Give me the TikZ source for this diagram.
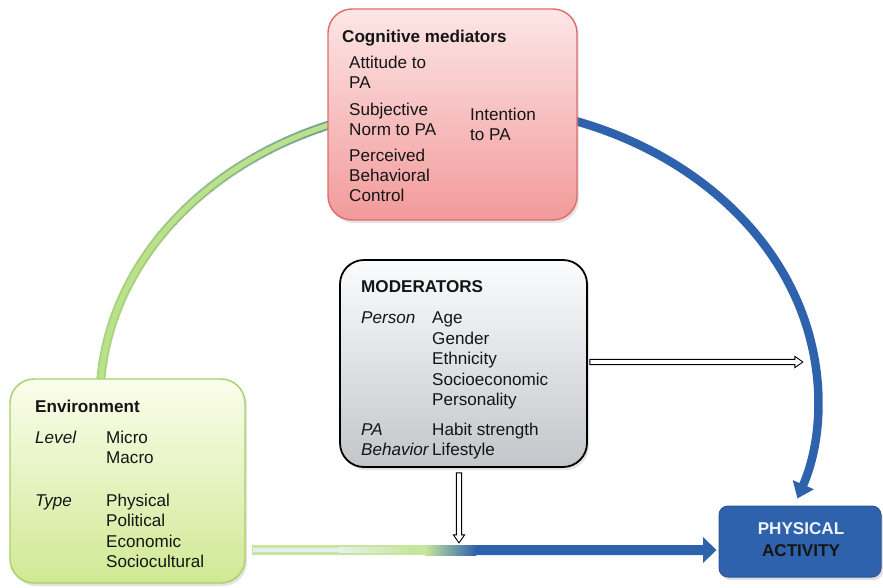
\documentclass[tikz,border=0pt]{standalone}
\usepackage{fontspec}
\setmainfont{Liberation Sans}
\usetikzlibrary{arrows.meta,shadows,calc}

\definecolor{ink}{HTML}{151515}
\definecolor{cogtop}{HTML}{FDE6E6}
\definecolor{cogbot}{HTML}{F29A9A}
\definecolor{cogedge}{HTML}{E06A6A}
\definecolor{modtop}{HTML}{FBFCFD}
\definecolor{modbot}{HTML}{C3C6CA}
\definecolor{envtop}{HTML}{FBFDEC}
\definecolor{envbot}{HTML}{D0E994}
\definecolor{envedge}{HTML}{A6D168}
\definecolor{pablue}{HTML}{2F62AC}
\definecolor{paedge}{HTML}{2A5697}
\definecolor{patext}{HTML}{EEF3FB}
\definecolor{grnedge}{HTML}{A9D57A}
\definecolor{grncore}{HTML}{BCE18C}
\definecolor{steel}{HTML}{4F7FA6}
\definecolor{barcore}{HTML}{E6EFEF}
\definecolor{baredge}{HTML}{C6E69C}

\begin{document}
\begin{tikzpicture}[x=1pt,y=-1pt,
  font=\fontsize{17.1}{20}\selectfont,
  box/.style={rounded corners=24pt, inner sep=0pt,
    drop shadow={opacity=0.22, shadow xshift=2pt, shadow yshift=-3pt}},
  cogbox/.style={box, draw=cogedge, line width=1.4pt, top color=cogtop,
    bottom color=cogbot, minimum width=249pt, minimum height=211pt},
  modbox/.style={box, draw=black, line width=1.8pt, top color=modtop,
    bottom color=modbot, minimum width=247pt, minimum height=207pt},
  envbox/.style={box, draw=envedge, line width=1.4pt, top color=envtop,
    bottom color=envbot, minimum width=235pt, minimum height=204pt},
  pabox/.style={rounded corners=9pt, draw=paedge, line width=1pt, fill=pablue,
    minimum width=162pt, minimum height=71pt,
    drop shadow={opacity=0.25, shadow xshift=2pt, shadow yshift=-3pt}},
  txt/.style={anchor=base west, inner sep=0pt, text=ink},
  ttl/.style={txt, font=\fontsize{17.1}{20}\selectfont\bfseries},
  lbl/.style={txt, font=\fontsize{17.1}{20}\selectfont\itshape},
  hollow/.style={draw=black, fill=white, line width=0.9pt, line join=miter},
]
\useasboundingbox (0,0) rectangle (883,587);

% centre of the elliptic loop joining the three outer boxes
\coordinate (ctr) at (459,400);

% green arc: environment -> cognitive mediators, edge turning steel blue near the top
\foreach \i in {0,...,23}{
  \pgfmathtruncatemacro\p{\i*\i/7}
  \pgfmathsetmacro\a{184+3*\i}
  \draw[line width=9pt, draw=steel!\p!grnedge]
    (ctr) ++(\a:359 and 295) arc[start angle=\a, end angle=\a+3.3, x radius=359, y radius=295];
}
\draw[line width=5.2pt, draw=grncore]
  (ctr) ++(184:359 and 295) arc[start angle=184, end angle=256, x radius=359, y radius=295];

% blue arc: cognitive mediators -> physical activity
\draw[line width=8.5pt, draw=pablue, -{Triangle[width=22pt,length=15pt]}]
  (ctr) ++(285:359 and 295) arc[start angle=285, end angle=379.5, x radius=359, y radius=295];

% boxes
\node[cogbox] (cog) at (452.5,114.5) {};
\node[modbox] (mod) at (463.5,363.5) {};
\node[envbox] (env) at (127.5,481) {};
\node[pabox]  (pa)  at (800,541.5) {};

% environment -> physical activity bar, green fading into blue
\fill[baredge] (252,545) rectangle (426,555);
\fill[barcore] (253,547.8) rectangle (340,552.2);
\shade[left color=barcore, right color=baredge] (339,547.8) rectangle (412,552.2);
\shade[left color=baredge, right color=pablue] (425,545) rectangle (476,555);
\fill[pablue] (475,545) -- (703,545) -- (703,537) -- ([xshift=-2pt]pa.west |- 0,550)
  -- (703,563) -- (703,555) -- (475,555) -- cycle;

% moderator arrows: outlined block arrows
\coordinate (hs) at ([xshift=2pt,yshift=1.5pt]mod.east);
\coordinate (ht) at ([xshift=213pt]hs);
\path[hollow] ($(hs)+(0,-2.6)$) -- ($(ht)+(-8,-2.6)$) -- ($(ht)+(-8,-5.6)$) -- (ht)
  -- ($(ht)+(-8,5.6)$) -- ($(ht)+(-8,2.6)$) -- ($(hs)+(0,2.6)$) -- cycle;
\coordinate (vs) at ([xshift=-4.5pt,yshift=-5pt]mod.south);
\coordinate (vt) at ([yshift=-70pt]vs);
\path[hollow] ($(vs)+(-2.6,0)$) -- ($(vt)+(-2.6,-8)$) -- ($(vt)+(-5.6,-8)$) -- (vt)
  -- ($(vt)+(5.6,-8)$) -- ($(vt)+(2.6,-8)$) -- ($(vs)+(2.6,0)$) -- cycle;

% cognitive mediators text
\node[ttl] (c0) at (342,42) {Cognitive mediators};
\node[txt] (c1) at (349,68) {Attitude to};
\node[txt] (c2) at (349,88) {PA};
\node[txt] (c3) at (349,115) {Subjective};
\node[txt] (c4) at (349,135) {Norm to PA};
\node[txt] (c5) at (349,161) {Perceived};
\node[txt] (c6) at (349,181) {Behavioral};
\node[txt] (c7) at (349,201) {Control};
\node[txt] (c8) at (470,120) {Intention};
\node[txt] (c9) at (470,140) {to PA};

% moderators text
\node[ttl] (m0) at (361,292) {MODERATORS};
\node[lbl] (m1) at (361,323.5) {Person};
\node[txt] (m2) at (432,323.5) {Age};
\node[txt] (m3) at (432,344) {Gender};
\node[txt] (m4) at (432,364.5) {Ethnicity};
\node[txt] (m5) at (432,385) {Socioeconomic};
\node[txt] (m6) at (432,405) {Personality};
\node[lbl] (m7) at (361,435) {PA};
\node[txt] (m8) at (432,435) {Habit strength};
\node[lbl] (m9) at (361,455.5) {Behavior};
\node[txt] (m10) at (432,455.5) {Lifestyle};

% environment text
\node[ttl] (e0) at (35,412) {Environment};
\node[lbl] (e1) at (35,443) {Level};
\node[txt] (e2) at (106,443) {Micro};
\node[txt] (e3) at (106,463.5) {Macro};
\node[lbl] (e4) at (35,506) {Type};
\node[txt] (e5) at (106,506) {Physical};
\node[txt] (e6) at (106,526.5) {Political};
\node[txt] (e7) at (106,547) {Economic};
\node[txt] (e8) at (106,567) {Sociocultural};

% physical activity text
\node[anchor=base, inner sep=0pt, text=patext, font=\fontsize{17.1}{20}\selectfont\bfseries] (p1) at (801,534) {PHYSICAL};
\node[anchor=base, inner sep=0pt, text=ink, font=\fontsize{17.1}{20}\selectfont\bfseries] (p2) at (801,556.5) {ACTIVITY};
\end{tikzpicture}
\end{document}
